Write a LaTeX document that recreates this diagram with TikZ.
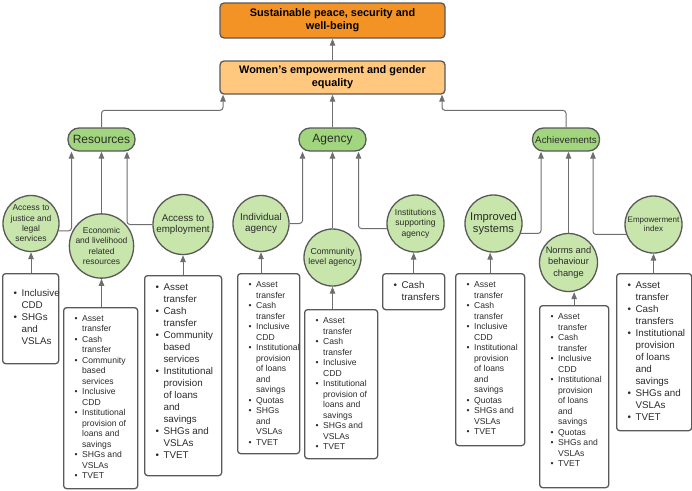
\documentclass[tikz,border=0pt]{standalone}
\usepackage{fontspec}
\setmainfont{Liberation Sans}
\usetikzlibrary{arrows.meta}
\definecolor{outc}{HTML}{F39325}
\definecolor{wec}{HTML}{FFC87E}
\definecolor{pillc}{HTML}{A2D67E}
\definecolor{circc}{HTML}{C8E6AC}
\definecolor{linec}{HTML}{595959}
\definecolor{arrc}{HTML}{6E6E6E}
\definecolor{txtc}{HTML}{2B2B2B}
\newcommand{\bulletbox}[4]{\begin{minipage}[t][#2][t]{#1}\vspace*{#3}\hspace*{11pt}\begin{tabular}[t]{@{}l@{\hspace{4.5pt}}l@{}}#4\end{tabular}\end{minipage}}
\tikzstyle{goal}=[draw=linec,line width=1.3pt,rounded corners=4pt,minimum width=225pt,minimum height=35pt,inner sep=0pt,align=center,font=\fontsize{10.9}{12.8}\selectfont\bfseries,text=black]
\tikzstyle{pill}=[draw=linec,line width=1.3pt,fill=pillc,rounded corners=11pt,minimum width=67pt,minimum height=23pt,inner sep=0pt,text=txtc]
\tikzstyle{dim}=[circle,draw=linec,line width=1.3pt,fill=circc,inner sep=0pt,align=center,text=txtc]
\tikzstyle{list}=[draw=linec,line width=1.3pt,rounded corners=3pt,inner sep=0pt,anchor=north west,text=txtc]
\tikzstyle{lsmall}=[font=\fontsize{8.6}{10.5}\selectfont]
\tikzstyle{lbig}=[font=\fontsize{9.8}{12}\selectfont]
\tikzstyle{conn}=[draw=arrc,line width=1pt,-{Triangle[length=7pt,width=5.5pt]},rounded corners=3pt]

\begin{document}
\begin{tikzpicture}[x=1pt,y=-1pt]
  \useasboundingbox (0,0) rectangle (692,490);
  % goals
  \node[goal,fill=outc] (peace) at (332.5,20.5) {Sustainable peace, security and\\well-being};
  \node[goal,fill=wec,minimum height=33pt] (wom) at (332.5,77.5) {Women's empowerment and gender\\equality};
  % domains
  \node[pill,font=\fontsize{12}{14}\selectfont] (res) at (101.5,139.5) {Resources};
  \node[pill,font=\fontsize{12}{14}\selectfont] (agen) at (332.5,139.5) {Agency};
  \node[pill,font=\fontsize{9.8}{12}\selectfont] (ach) at (566,139.5) {Achievements};
  % dimensions
  \node[dim,minimum size=56pt,font=\fontsize{8.5}{10.3}\selectfont] (just) at (31,223.5) {Access to\\justice and\\legal\\services};
  \node[dim,minimum size=59pt,font=\fontsize{8.5}{10.5}\selectfont] (econ) at (101.5,246) {Economic\\and livelihood\\related\\resources};
  \node[dim,minimum size=60pt,font=\fontsize{9.8}{11.5}\selectfont] (empl) at (183,224.5) {Access to\\employment};
  \node[dim,minimum size=56pt,font=\fontsize{9.9}{11.5}\selectfont] (indiv) at (261,223.5) {Individual\\agency};
  \node[dim,minimum size=57pt,font=\fontsize{8.7}{10}\selectfont] (comm) at (332.5,257.5) {Community\\level agency};
  \node[dim,minimum size=57pt,font=\fontsize{8.6}{10.7}\selectfont] (inst) at (415.5,223.5) {Institutions\\supporting\\agency};
  \node[dim,minimum size=57pt,font=\fontsize{11.2}{12.3}\selectfont] (impr) at (493.5,223.5) {Improved\\systems};
  \node[dim,minimum size=58pt,font=\fontsize{9.3}{11.7}\selectfont] (norm) at (568.5,262.5) {Norms and\\behaviour\\change};
  \node[dim,minimum size=57pt,font=\fontsize{8}{9}\selectfont] (eidx) at (653.5,224.5) {Empowerment\\index};
  % interventions
  \node[list,lbig] (l1) at (2,273) {\bulletbox{56pt}{90pt}{14pt}{%
    \textbullet & Inclusive\\ & CDD\\ \textbullet & SHGs\\ & and\\ & VSLAs}};
  \node[list,lsmall] (l2) at (63,307) {\bulletbox{74pt}{181pt}{6pt}{%
    \textbullet & Asset\\ & transfer\\ \textbullet & Cash\\ & transfer\\
    \textbullet & Community\\ & based\\ & services\\ \textbullet & Inclusive\\ & CDD\\
    \textbullet & Institutional\\ & provision of\\ & loans and\\ & savings\\
    \textbullet & SHGs and\\ & VSLAs\\ \textbullet & TVET}};
  \node[list,lbig] (l3) at (144,275) {\bulletbox{77pt}{200pt}{6.5pt}{%
    \textbullet & Asset\\ & transfer\\ \textbullet & Cash\\ & transfer\\
    \textbullet & Community\\ & based\\ & services\\
    \textbullet & Institutional\\ & provision\\ & of loans\\ & and\\ & savings\\
    \textbullet & SHGs and\\ & VSLAs\\ \textbullet & TVET}};
  \node[list,lsmall] (l4) at (237,273) {\bulletbox{62pt}{180pt}{6.5pt}{%
    \textbullet & Asset\\ & transfer\\ \textbullet & Cash\\ & transfer\\
    \textbullet & Inclusive\\ & CDD\\
    \textbullet & Institutional\\ & provision\\ & of loans\\ & and\\ & savings\\
    \textbullet & Quotas\\ \textbullet & SHGs\\ & and\\ & VSLAs\\ \textbullet & TVET}};
  \node[list,lsmall] (l5) at (304,309) {\bulletbox{73pt}{149pt}{6.5pt}{%
    \textbullet & Asset\\ & transfer\\ \textbullet & Cash\\ & transfer\\
    \textbullet & Inclusive\\ & CDD\\
    \textbullet & Institutional\\ & provision of\\ & loans and\\ & savings\\
    \textbullet & SHGs and\\ & VSLAs\\ \textbullet & TVET}};
  \node[list,lbig] (l6) at (382,273) {\bulletbox{62pt}{36pt}{6.5pt}{%
    \textbullet & Cash\\ & transfers}};
  \node[list,lsmall] (l7) at (455,273) {\bulletbox{69pt}{172pt}{6.5pt}{%
    \textbullet & Asset\\ & transfer\\ \textbullet & Cash\\ & transfer\\
    \textbullet & Inclusive\\ & CDD\\
    \textbullet & Institutional\\ & provision\\ & of loans\\ & and\\ & savings\\
    \textbullet & Quotas\\ \textbullet & SHGs and\\ & VSLAs\\ \textbullet & TVET}};
  \node[list,lsmall] (l8) at (539,305) {\bulletbox{69pt}{182pt}{6.5pt}{%
    \textbullet & Asset\\ & transfer\\ \textbullet & Cash\\ & transfer\\
    \textbullet & Inclusive\\ & CDD\\
    \textbullet & Institutional\\ & provision\\ & of loans\\ & and\\ & savings\\
    \textbullet & Quotas\\ \textbullet & SHGs and\\ & VSLAs\\ \textbullet & TVET}};
  \node[list,lbig] (l9) at (616,273) {\bulletbox{75pt}{157pt}{6.5pt}{%
    \textbullet & Asset\\ & transfer\\ \textbullet & Cash\\ & transfers\\
    \textbullet & Institutional\\ & provision\\ & of loans\\ & and\\ & savings\\
    \textbullet & SHGs and\\ & VSLAs\\ \textbullet & TVET}};
  % arrows up to the goals
  \draw[conn] (wom) -- (peace);
  \draw[conn] (res.north) -- ++(0,-17) -| ([xshift=-109.5pt]wom.south);
  \draw[conn] (agen) -- (agen |- wom.south);
  \draw[conn] (ach.north) -- ++(0,-17) -| ([xshift=109.5pt]wom.south);
  % arrows up to the domains
  \draw[conn] (just.-15) -| ([xshift=-30pt]res.south);
  \draw[conn] (econ) -- (econ |- res.south);
  \draw[conn] (empl.west) -| ([xshift=25.5pt]res.south);
  \draw[conn] (indiv.east) -| ([xshift=-30pt]agen.south);
  \draw[conn] (comm) -- (comm |- agen.south);
  \draw[conn] (inst.190) -| ([xshift=26pt]agen.south);
  \draw[conn] (impr.-20) -| ([xshift=-25pt]ach.south);
  \draw[conn] (norm) -- (norm |- ach.south);
  \draw[conn] (eidx.200) -| ([xshift=27pt]ach.south);
  % arrows up to the dimensions
  \draw[conn] (just |- l1.north) -- (just);
  \draw[conn] (econ |- l2.north) -- (econ);
  \draw[conn] (empl |- l3.north) -- (empl);
  \draw[conn] (indiv |- l4.north) -- (indiv);
  \draw[conn] (comm |- l5.north) -- (comm);
  \draw[conn] (l6.north) -- (l6.north |- inst.south);
  \draw[conn] (l7.north) -- (l7.north |- impr.south);
  \draw[conn] (l8.north) -- (l8.north |- norm.south);
  \draw[conn] (eidx |- l9.north) -- (eidx);
\end{tikzpicture}
\end{document}
